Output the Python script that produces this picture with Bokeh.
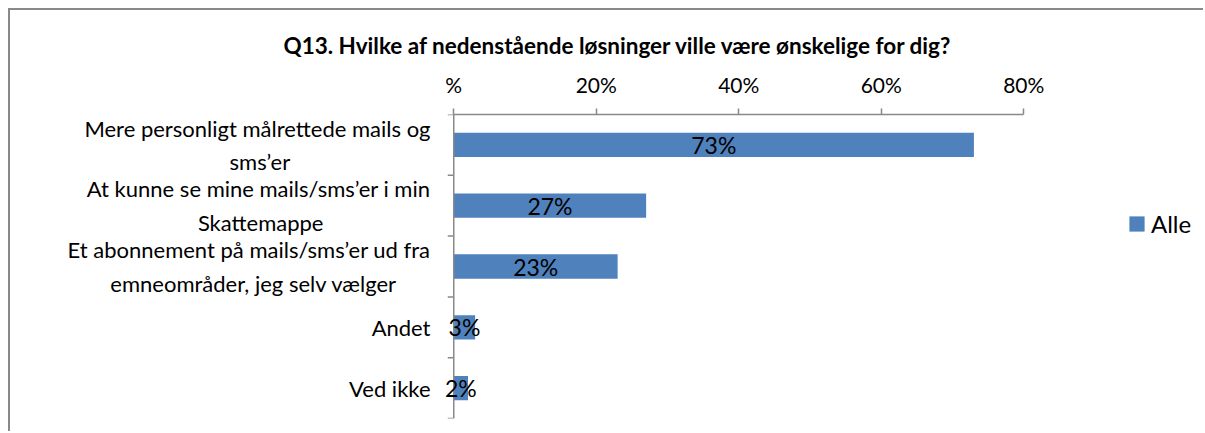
from bokeh.plotting import figure
from bokeh.models import Range1d, FixedTicker, ColumnDataSource, Legend, LegendItem, LabelSet, Span
from bokeh.core.properties import value
from bokeh.embed import file_html
from bokeh.resources import INLINE

# ---- data ----
title_text = "Q13. Hvilke af nedenstående løsninger ville være ønskelige for dig?"
categories = [
    "Mere personligt målrettede mails og\nsms’er",
    "At kunne se mine mails/sms’er i min\nSkattemappe",
    "Et abonnement på mails/sms’er ud fra\nemneområder, jeg selv vælger",
    "Andet",
    "Ved ikke",
]
values = [73, 27, 23, 3, 2]
value_labels = ["73%", "27%", "23%", "3%", "2%"]
x_ticks = [0, 20, 40, 60, 80]
x_tick_labels = ["%", "20%", "40%", "60%", "80%"]
series_name = "Alle"

# ---- style ----
FONT = "Lato"
BAR = "#4F81BD"
AXIS = "#898989"
PX_PER_UNIT = 7.125          # 80 % spans 570 px
TICK_PX = 6
# trailing no-break spaces so the short 2nd line sits centred under the 1st
line2_pad = [25, 19, 6, 0, 0]


def centred(label, pad):
    if "\n" not in label:
        return label
    a, b = label.split("\n")
    return a + "\n" + b + "\u00a0" * pad


n = len(categories)
ypos = [i + 0.5 for i in range(n)]
bounds = list(range(n + 1))
src = ColumnDataSource(dict(
    y=ypos,
    right=values,
    mid=[v / 2 for v in values],
    label=value_labels,
))

# frame spans a little left of 0 and to the right edge; the value axis is bounded to 0..80
p = figure(
    width=1195, height=423,
    x_range=Range1d(-2, 105.5), y_range=Range1d(n, 0),
    x_axis_location="above",
    output_backend="svg", toolbar_location=None,
    min_border_left=429, min_border_right=0,
    min_border_top=104, min_border_bottom=15,
)
p.styles = {
    "margin-left": "8px", "margin-top": "8px",
    "border-left": f"2px solid {AXIS}", "border-top": f"2px solid {AXIS}",
}
p.outline_line_color = None
p.xgrid.visible = False
p.ygrid.visible = False

bars = p.hbar(y="y", left=0, right="right", height=0.4, source=src,
              fill_color=BAR, line_color=None)

# category axis line at x = 0 with ticks between the categories
p.add_layout(Span(location=0, dimension="height", line_color=AXIS, line_width=1.5))
p.segment(x0=-TICK_PX / PX_PER_UNIT, x1=0, y0=bounds, y1=bounds,
          line_color=AXIS, line_width=1.5)

p.add_layout(LabelSet(x="mid", y="y", text="label", source=src,
                      text_align="center", text_baseline="middle",
                      text_font=value(FONT), text_font_size="23px", text_color="black"))

# title
p.title.text = title_text
p.title.align = "left"
p.title.offset = -156
p.title.text_font = FONT
p.title.text_font_size = "22.5px"
p.title.text_font_style = "bold"
p.title.text_color = "black"
p.title.standoff = 20

# x axis (top)
xa = p.xaxis[0]
xa.ticker = FixedTicker(ticks=x_ticks)
xa.bounds = (0, 80)
xa.major_label_overrides = {t: l for t, l in zip(x_ticks, x_tick_labels)}
xa.major_tick_out = TICK_PX
xa.major_tick_in = 0
xa.minor_tick_out = 0
xa.minor_tick_in = 0
xa.axis_line_color = AXIS
xa.axis_line_width = 1.5
xa.major_tick_line_color = AXIS
xa.major_tick_line_width = 1.5
xa.major_label_text_font = FONT
xa.major_label_text_font_size = "21px"
xa.major_label_text_color = "black"
xa.major_label_standoff = 12

# y axis (left): category labels only
ya = p.yaxis[0]
ya.ticker = FixedTicker(ticks=ypos)
ya.major_label_overrides = {y: centred(c, pd) for y, c, pd in zip(ypos, categories, line2_pad)}
ya.axis_line_color = None
ya.major_tick_line_color = None
ya.minor_tick_line_color = None
ya.major_tick_out = 0
ya.major_tick_in = 0
ya.minor_tick_out = 0
ya.minor_tick_in = 0
ya.major_label_text_font = FONT
ya.major_label_text_font_size = "22px"
ya.major_label_text_line_height = 1.25
ya.major_label_text_color = "black"
ya.major_label_standoff = 9

legend = Legend(
    items=[LegendItem(label=series_name, renderers=[bars])],
    location=(688, 180),
    glyph_width=19, glyph_height=19,
    label_text_font=FONT, label_text_font_size="24px", label_text_color="black",
    label_standoff=5, padding=0, margin=0, spacing=0,
    border_line_color=None, background_fill_alpha=0,
)
p.add_layout(legend, "center")

open("out.html", "w").write(file_html(p, INLINE))
